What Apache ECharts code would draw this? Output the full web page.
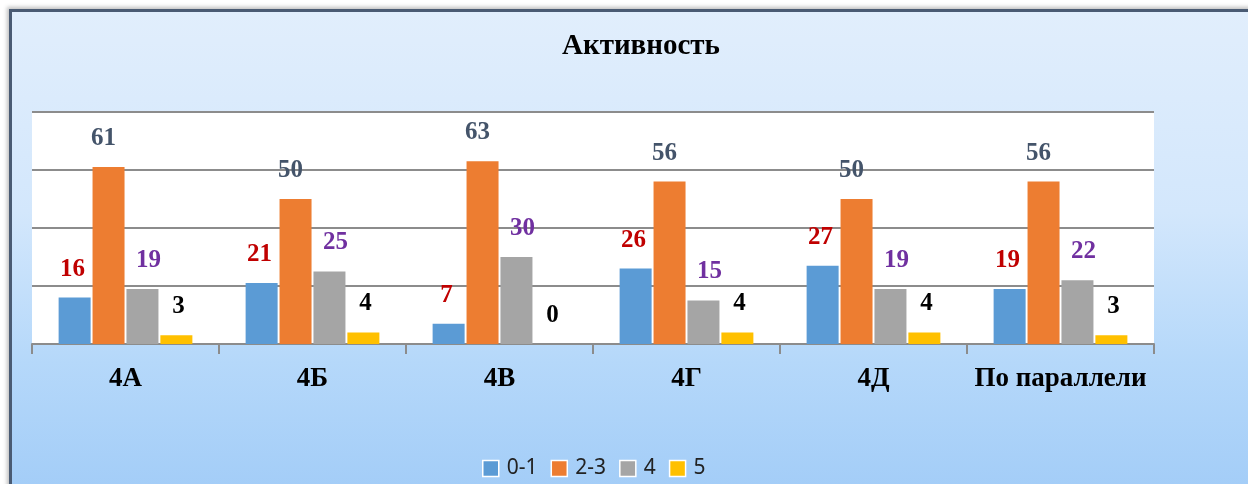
<!DOCTYPE html>
<html>
<head>
<meta charset="utf-8">
<script src="https://cdn.jsdelivr.net/npm/echarts@6/dist/echarts.min.js"></script>
<style>
  html, body { margin: 0; padding: 0; background: #fff; overflow: hidden; }
  .frame {
    position: absolute; left: 9px; top: 9px; width: 1260px; height: 500px;
    border-left: 3px solid #4a5b73; border-top: 3px solid #4a5b73;
    background: linear-gradient(to bottom, #e1eefc 0%, #d3e7fc 40%, #b5d8fa 70%, #a0cbf7 100%);
    box-shadow: -2px -2px 4px rgba(0,0,0,0.25);
  }
  #chart { position: absolute; left: 0; top: 0; width: 1248px; height: 484px; }
</style>
</head>
<body>
<div class="frame"></div>
<div id="chart"></div>
<script>
const categories = ['4А', '4Б', '4В', '4Г', '4Д', 'По параллели']
const seriesNames = ['0-1', '2-3', '4', '5']
const values01 = [16, 21, 7, 26, 27, 19]
const values23 = [61, 50, 63, 56, 50, 56]
const values4 = [19, 25, 30, 15, 19, 22]
const values5 = [3, 4, 0, 4, 4, 3]

const barColors = ['#5b9bd5', '#ed7d31', '#a5a5a5', '#ffc000']
const labelColors = ['#c00000', '#44546a', '#7030a0', '#000000']
const labelOffsets = [[-2, 0], [-5, 0], [6, 0], [2, 0]]
const serif = '"Liberation Serif", "DejaVu Serif", serif'

const chart = echarts.init(document.getElementById('chart'))

let allValues = [values01, values23, values4, values5]
let series = []
for (let i = 0; i < seriesNames.length; i++) {
  series.push({
    name: seriesNames[i],
    type: 'bar',
    barWidth: 32,
    barGap: '6%',
    itemStyle: { color: barColors[i] },
    label: {
      show: true,
      position: 'top',
      distance: 16,
      offset: labelOffsets[i],
      color: labelColors[i],
      fontFamily: serif,
      fontWeight: 'bold',
      fontSize: 25,
    },
    data: allValues[i],
  })
}

let option = {
  animation: false,
  backgroundColor: 'transparent',
  title: {
    text: 'Активность',
    left: 557,
    top: 27,
    textStyle: { fontFamily: serif, fontWeight: 'bold', fontSize: 29, color: '#000' },
  },
  legend: {
    data: seriesNames,
    left: 477,
    top: 453,
    itemWidth: 16,
    itemHeight: 16,
    itemGap: 13,
    icon: 'rect',
    itemStyle: { borderColor: '#fff', borderWidth: 1.5 },
    textStyle: {
      fontFamily: '"Noto Sans", sans-serif',
      fontSize: 21,
      color: '#222',
      padding: [0, 0, 0, 3],
    },
  },
  grid: {
    left: 32,
    right: 94,
    top: 112,
    bottom: 140,
    show: true,
    backgroundColor: '#fff',
    borderWidth: 0,
  },
  xAxis: {
    type: 'category',
    data: categories,
    axisLine: { lineStyle: { color: '#8c8c8c', width: 2 } },
    axisTick: {
      show: true,
      interval: 0,
      alignWithLabel: false,
      length: 10,
      lineStyle: { color: '#8c8c8c', width: 2 },
    },
    axisLabel: {
      margin: 22,
      interval: 0,
      fontFamily: serif,
      fontWeight: 'bold',
      fontSize: 27,
      color: '#000',
    },
  },
  yAxis: {
    type: 'value',
    min: 0,
    max: 80,
    interval: 20,
    axisLabel: { show: false },
    axisLine: { show: false },
    axisTick: { show: false },
    splitLine: { lineStyle: { color: '#8c8c8c', width: 2 } },
  },
  series: series,
}
chart.setOption(option)
</script>
</body>
</html>
